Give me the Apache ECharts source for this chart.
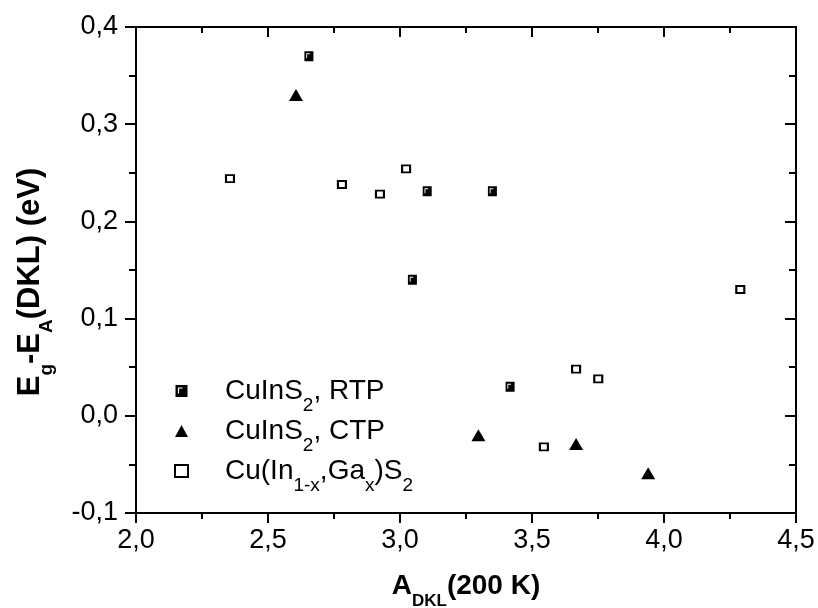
<!DOCTYPE html>
<html>
<head>
<meta charset="utf-8">
<script src="https://cdn.jsdelivr.net/npm/echarts@6/dist/echarts.min.js"></script>
<style>html,body{margin:0;padding:0;background:#fff;}#c{width:818px;height:608px;}</style>
</head>
<body>
<div id="c"></div>
<script>
// Data
var rtpPoints = [[2.655, 0.370], [3.103, 0.231], [3.350, 0.231], [3.047, 0.140], [3.417, 0.030]];
var ctpPoints = [[2.606, 0.330], [3.297, -0.020], [3.667, -0.029], [3.940, -0.059]];
var gaPoints = [[2.356, 0.244], [2.780, 0.238], [2.924, 0.228], [3.023, 0.254], [4.289, 0.130], [3.667, 0.048], [3.751, 0.038], [3.545, -0.032]];
var seriesNames = ['RTP', 'CTP', 'Ga'];
var xTicks = [2.0, 2.5, 3.0, 3.5, 4.0, 4.5];
var yTicks = [-0.1, 0.0, 0.1, 0.2, 0.3, 0.4];

var FONT = '"Liberation Sans", Arial, sans-serif';
var fmt = function (v) { return v.toFixed(1).replace('.', ','); };
var rtpSymbol = 'path://M0 0H10V10H0Z M2 2V7H3V3H6V2Z';

var chart = echarts.init(document.getElementById('c'), null, {renderer: 'canvas'});
var axisCommon = {
  type: 'value',
  axisLine: {show: true, onZero: false, lineStyle: {color: '#000', width: 2}},
  splitLine: {show: false},
  minorSplitLine: {show: false}
};
chart.setOption({
  animation: false,
  backgroundColor: '#fff',
  grid: {left: 136, right: 22, top: 27, bottom: 95, containLabel: false, outerBoundsMode: 'none'},
  xAxis: [
    Object.assign({}, axisCommon, {
      min: xTicks[0], max: xTicks[xTicks.length - 1], interval: 0.5,
      axisTick: {show: true, inside: false, length: 10, lineStyle: {color: '#000', width: 2}},
      minorTick: {show: true, splitNumber: 2, length: 6, lineStyle: {color: '#000', width: 2}},
      axisLabel: {color: '#000', fontFamily: FONT, fontSize: 27, margin: 14, formatter: fmt},
      name: '{b|A}{s|DKL}{b|(200 K)}',
      nameLocation: 'middle', nameGap: 59,
      nameTextStyle: {
        color: '#000', fontFamily: FONT,
        rich: {
          b: {fontFamily: FONT, fontSize: 28, fontWeight: 'bold', color: '#000', lineHeight: 28, verticalAlign: 'top'},
          s: {fontFamily: FONT, fontSize: 17, fontWeight: 'bold', color: '#000', lineHeight: 17, padding: [21, 0, 0, 0], verticalAlign: 'top'}
        }
      }
    }),
    Object.assign({}, axisCommon, {
      position: 'top',
      min: xTicks[0], max: xTicks[xTicks.length - 1], interval: 0.5,
      axisTick: {show: true, inside: true, length: 10, lineStyle: {color: '#000', width: 2}},
      minorTick: {show: true, splitNumber: 2, length: 6, lineStyle: {color: '#000', width: 2}},
      axisLabel: {show: false}
    })
  ],
  yAxis: [
    Object.assign({}, axisCommon, {
      min: yTicks[0], max: yTicks[yTicks.length - 1], interval: 0.1,
      axisTick: {show: true, inside: false, length: 11, lineStyle: {color: '#000', width: 2}},
      minorTick: {show: true, splitNumber: 2, length: 7, lineStyle: {color: '#000', width: 2}},
      axisLabel: {color: '#000', fontFamily: FONT, fontSize: 27, margin: 18, formatter: fmt},
      name: '{b|E}{s|g}{b|-E}{s|A}{b|(DKL) (eV)}{h| }',
      nameLocation: 'middle', nameGap: 90, nameRotate: 90,
      nameTextStyle: {
        color: '#000', fontFamily: FONT,
        rich: {
          b: {fontFamily: FONT, fontSize: 31, fontWeight: 'bold', color: '#000', lineHeight: 31, verticalAlign: 'top'},
          s: {fontFamily: FONT, fontSize: 19, fontWeight: 'bold', color: '#000', lineHeight: 19, padding: [22, 0, 0, 0], verticalAlign: 'top'},
          h: {fontFamily: FONT, fontSize: 10, color: 'rgba(0,0,0,0)', width: 24, lineHeight: 10, verticalAlign: 'top'}
        }
      }
    }),
    Object.assign({}, axisCommon, {
      position: 'right',
      min: yTicks[0], max: yTicks[yTicks.length - 1], interval: 0.1,
      axisTick: {show: true, inside: true, length: 11, lineStyle: {color: '#000', width: 2}},
      minorTick: {show: true, splitNumber: 2, length: 7, lineStyle: {color: '#000', width: 2}},
      axisLabel: {show: false}
    })
  ],
  legend: {
    orient: 'vertical', left: 169, top: 372, itemGap: 2,
    itemWidth: 13, itemHeight: 12,
    data: seriesNames,
    formatter: function (n) {
      if (n === 'RTP') return '{m|CuInS}{s|2}{m|, RTP}';
      if (n === 'CTP') return '{m|CuInS}{s|2}{m|, CTP}';
      return '{m|Cu(In}{s|1-x}{m|,Ga}{s|x}{m|)S}{s|2}';
    },
    textStyle: {
      color: '#000', fontFamily: FONT, padding: [0, 0, 0, 32],
      rich: {
        m: {fontFamily: FONT, fontSize: 28, color: '#000', lineHeight: 28, verticalAlign: 'top'},
        s: {fontFamily: FONT, fontSize: 19, color: '#000', lineHeight: 19, padding: [19, 0, 0, 0], verticalAlign: 'top'}
      }
    }
  },
  series: [
    {name: 'RTP', type: 'scatter', data: rtpPoints, symbol: rtpSymbol, symbolSize: [9, 10],
      itemStyle: {color: '#000', opacity: 1}, z: 3},
    {name: 'CTP', type: 'scatter', data: ctpPoints, symbol: 'triangle', symbolSize: [14, 12],
      itemStyle: {color: '#000', opacity: 1}, z: 3},
    {name: 'Ga', type: 'scatter', data: gaPoints, symbol: 'rect', symbolSize: [8, 7],
      itemStyle: {color: '#fff', borderColor: '#000', borderWidth: 2, opacity: 1}, z: 3}
  ]
});
</script>
</body>
</html>
